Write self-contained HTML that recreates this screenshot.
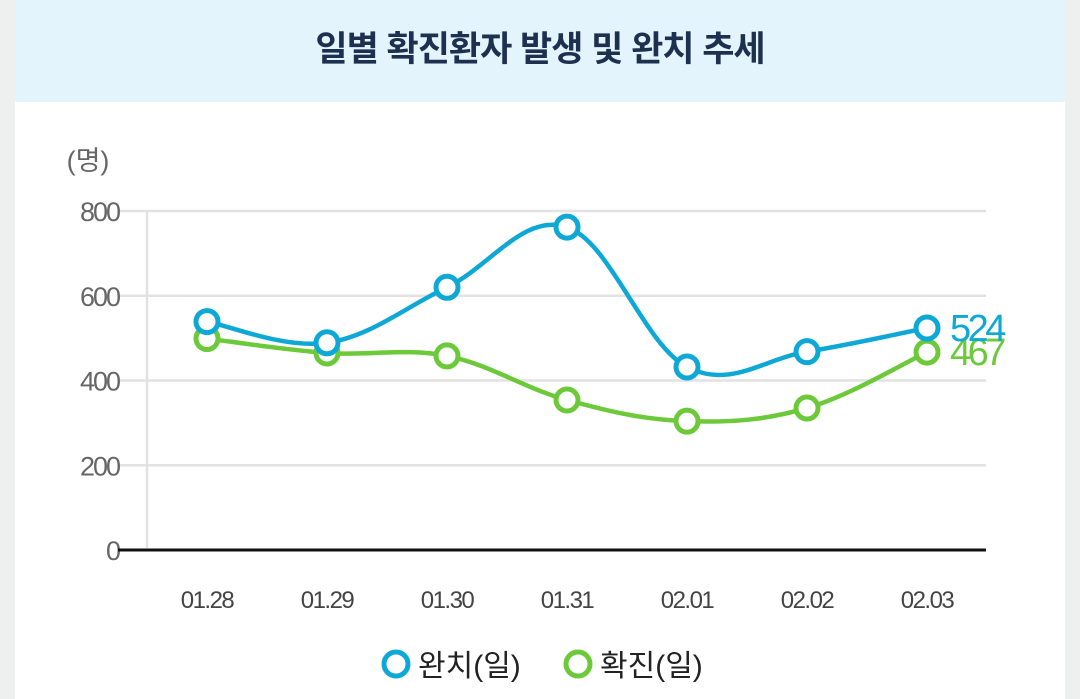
<!DOCTYPE html>
<html><head><meta charset="utf-8"><style>
body{margin:0;width:1080px;height:699px;background:#eef0ef;overflow:hidden;font-family:"Liberation Sans","Noto Sans CJK KR",sans-serif}
#panel{position:absolute;left:15px;top:0;width:1050px;height:699px;background:#fff}
#hdr{position:absolute;left:0;top:0;width:1050px;height:102px;background:#e4f4fc}
#title{position:absolute;left:0;width:1050px;top:21px;text-align:center;font-size:35px;font-weight:bold;color:#1d3050;letter-spacing:-1px}
svg{position:absolute;left:0;top:0}
</style></head><body>
<div id="panel">
<div id="hdr"><div id="title">일별 확진환자 발생 및 완치 추세</div></div>
</div>
<svg id="c" width="1080" height="699" font-family="Liberation Sans, Noto Sans CJK KR, sans-serif"></svg>
<script>
const categories=["01.28","01.29","01.30","01.31","02.01","02.02","02.03"];
const recovered=[539,489,620,762,432,468,524];
const confirmed=[499,465,458,354,304,335,467];
const yTicks=[0,200,400,600,800];
const NS="http://www.w3.org/2000/svg",svg=document.getElementById('c');
const x=i=>207+i*120, y=v=>550-v*339/800;
function mk(t,a,p){const e=document.createElementNS(NS,t);for(const k in a)e.setAttribute(k,a[k]);(p||svg).appendChild(e);return e;}
let u=mk('text',{x:88,y:170,'font-size':27,fill:'#666','text-anchor':'middle'});u.textContent='(명)';


yTicks.forEach(t=>{
 if(t>0){let g=mk('line',{x1:120,x2:986,y1:y(t),y2:y(t),stroke:'#e2e2e2','stroke-width':2.5});
 
 }
 let l=mk('text',{x:119,y:y(t)+10,'font-size':27,fill:'#666','text-anchor':'end','letter-spacing':-2});l.textContent=t;
 
 
});
let va=mk('line',{x1:147,x2:147,y1:211,y2:548,stroke:'#e2e2e2','stroke-width':2.5});


let xa=mk('line',{x1:118,x2:986,y1:550,y2:550,stroke:'#111','stroke-width':3});


categories.forEach((c,i)=>{let t=mk('text',{x:x(i),y:608,'font-size':24,fill:'#444','text-anchor':'middle','letter-spacing':-1.5});t.textContent=c;
 
 });
function path(vals){const p=vals.map((v,i)=>[x(i),y(v)]);let d='M'+p[0];
 for(let i=0;i<p.length-1;i++){const p0=p[i-1]||p[i],p1=p[i],p2=p[i+1],p3=p[i+2]||p2,k=0.18;
 d+=' C'+(p1[0]+(p2[0]-p0[0])*k)+','+(p1[1]+(p2[1]-p0[1])*k)+' '+(p2[0]-(p3[0]-p1[0])*k)+','+(p2[1]-(p3[1]-p1[1])*k)+' '+p2;}return d;}
function series(vals,col,name,lx,ly){
 let p=mk('path',{d:path(vals),fill:'none',stroke:col,'stroke-width':4.5});
 
 
 vals.forEach((v,i)=>{let c=mk('circle',{cx:x(i),cy:y(v),r:11,fill:'#fff',stroke:col,'stroke-width':5});
 
 });
 let t=mk('text',{x:950,y:y(vals[vals.length-1])+13,'font-size':38,fill:col,'letter-spacing':-3.5});t.textContent=vals[vals.length-1];
 
 
 let lc=mk('circle',{cx:lx,cy:ly,r:12,fill:'#fff',stroke:col,'stroke-width':5});
 
 
}
series(confirmed,'#6cc93a','confirmed',578,664);
series(recovered,'#0ea8d6','recovered',396,664);
let l1=mk('text',{x:418,y:676,'font-size':30,fill:'#222'});l1.textContent='완치(일)';


let l2=mk('text',{x:600,y:676,'font-size':30,fill:'#222'});l2.textContent='확진(일)';


</script>
</body></html>
